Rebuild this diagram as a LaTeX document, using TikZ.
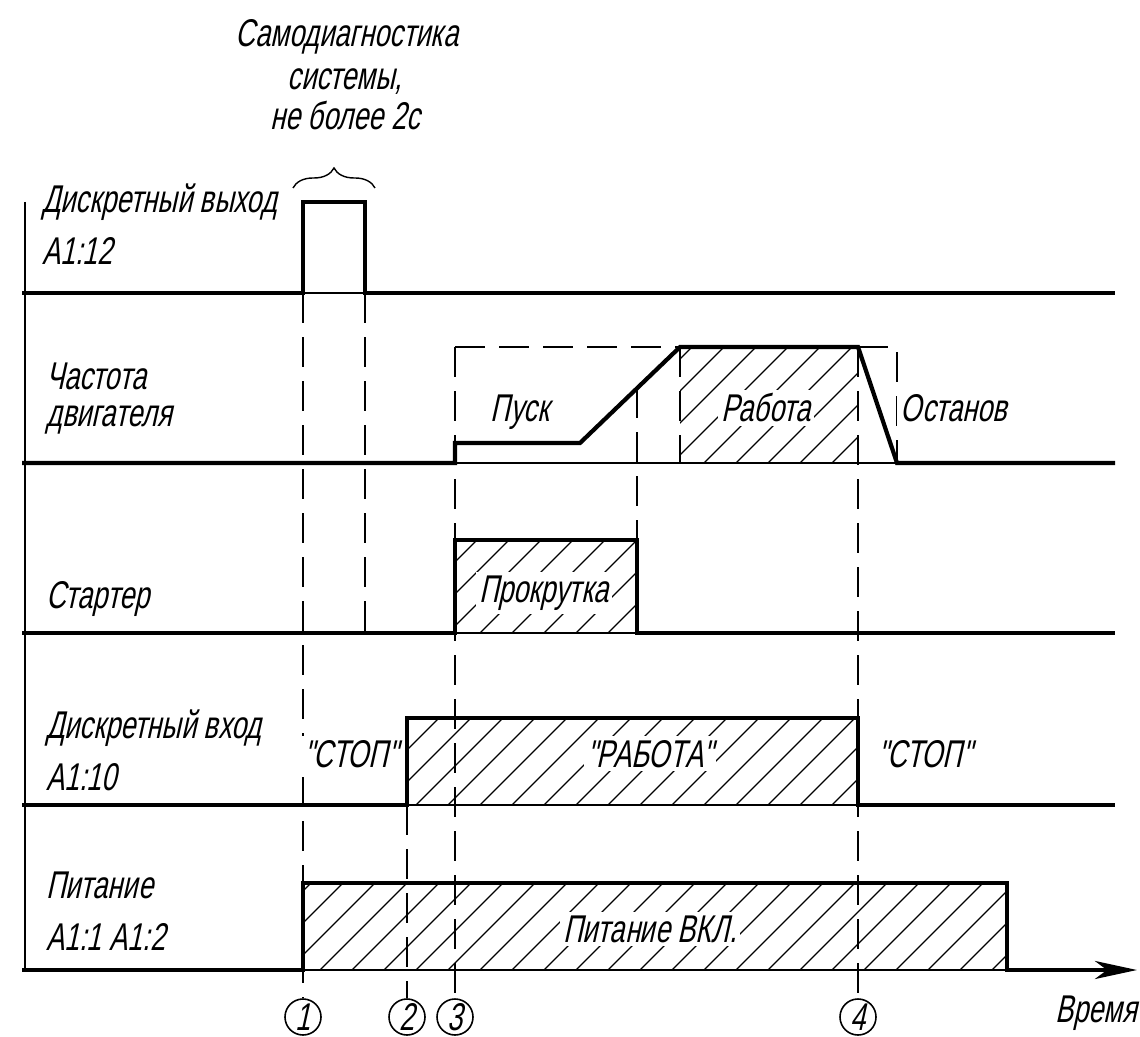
\documentclass[tikz,border=0pt]{standalone}
\usepackage{fontspec}
\usepackage{tikz}
\usetikzlibrary{arrows.meta,decorations.pathreplacing}
\newfontfamily\gostfont{Liberation Sans}[FakeStretch=0.7,FakeSlant=0.22]

\tikzstyle{signal} = [line width=1.2pt]
\tikzstyle{ground} = [line width=0.4pt]
\tikzstyle{guide} = [line width=0.45pt, dash pattern=on 3mm off 1.4mm]
\tikzstyle{hatchline} = [line width=0.35pt]
\tikzstyle{lbl} = [font=\gostfont\fontsize{11}{13}\selectfont, inner sep=1pt]
\tikzstyle{tag} = [lbl, fill=white]
\tikzstyle{marker} = [draw, circle, line width=0.45pt, minimum size=3.6mm,
    inner sep=0pt, font=\gostfont\fontsize{11}{13}\selectfont]

\newcommand{\hatchrect}[4]{%
  \begin{scope}
    \clip (#1,#2) rectangle (#3,#4);
    \foreach \hx in {-160,-128,...,1120}
      \draw[hatchline] (\hx,#4) -- ++(160,-160);
  \end{scope}}

\begin{document}
\begin{tikzpicture}[x=0.01cm, y=-0.01cm]
\useasboundingbox (0,0) rectangle (1140,1037);

% hatched zones
\hatchrect{680}{347}{858}{463}
\hatchrect{455}{540}{637}{633}
\hatchrect{407}{718}{858}{805}
\hatchrect{303}{883}{1007}{970}

% axis and thin bottoms
\draw[ground] (25,202) -- (25,970);
\draw[ground] (303,293) -- (365,293);
\draw[ground] (455,463) -- (897,463);
\draw[ground] (455,633) -- (637,633);
\draw[ground] (407,805) -- (858,805);
\draw[ground] (303,970) -- (1007,970);

% time marks
\node[marker] (m1) at (303,1017) {1};
\node[marker] (m2) at (407,1017) {2};
\node[marker] (m3) at (455,1017) {3};
\node[marker] (m4) at (858,1017) {4};

\draw[guide] (303,293) -- (m1);
\draw[guide] (365,293) -- (365,633);
\draw[guide] (407,805) -- (m2);
\draw[guide] (455,347) -- (m3);
\draw[guide] (858,347) -- (m4);
\draw[guide] (455,347) -- (680,347);
\draw[guide] (858,347) -- (897,347) -- (897,463);
\draw[guide] (680,347) -- (680,463);
\draw[guide] (637,388) -- (637,540);

% captions
\node[lbl, anchor=base] (title1) at (347,47) {Самодиагностика};
\node[lbl, anchor=base] (title2) at (345,90) {системы,};
\node[lbl, anchor=base] (title3) at (345,130) {не более 2с};
\draw[ground, decorate, decoration={brace, amplitude=2mm}] (293,188) -- (375,188);

\node[lbl, anchor=base west] (out1) at (38,213) {Дискретный выход};
\node[lbl, anchor=base west] (out2) at (38,265) {A1:12};
\node[lbl, anchor=base west] (freq1) at (42,390) {Частота};
\node[lbl, anchor=base west] (freq2) at (42,427) {двигателя};
\node[lbl, anchor=base west] (start1) at (42,608) {Стартер};
\node[lbl, anchor=base west] (in1) at (42,738) {Дискретный вход};
\node[lbl, anchor=base west] (in2) at (42,790) {A1:10};
\node[lbl, anchor=base west] (pwr1) at (42,898) {Питание};
\node[lbl, anchor=base west] (pwr2) at (42,950) {A1:1 A1:2};

\node[tag, anchor=base] (launch) at (520,422) {Пуск};
\node[tag, anchor=base] (run) at (766,422) {Работа};
\node[tag, anchor=base] (halt) at (954,422) {Останов};
\node[tag, anchor=base] (crank) at (544,602) {Прокрутка};
\node[tag, anchor=base] (stopA) at (351,767) {"СТОП"};
\node[tag, anchor=base] (runA) at (650,767) {"РАБОТА"};
\node[tag, anchor=base] (stopB) at (925,767) {"СТОП"};
\node[tag, anchor=base] (pwron) at (650,942) {Питание ВКЛ.};
\node[lbl, anchor=base east] (time) at (1141,1022) {Время};

% signals
\draw[signal] (22,293) -- (303,293) -- (303,202) -- (365,202) -- (365,293) -- (1115,293);
\draw[signal] (22,463) -- (455,463) -- (455,443) -- (580,443) -- (680,347)
    -- (858,347) -- (897,463) -- (1115,463);
\draw[signal] (22,633) -- (455,633) -- (455,540) -- (637,540) -- (637,633) -- (1115,633);
\draw[signal] (22,805) -- (407,805) -- (407,718) -- (858,718) -- (858,805) -- (1115,805);
\draw[signal, -{Stealth[length=4.2mm, width=1.8mm, inset=1.2mm]}] (22,970) -- (303,970)
    -- (303,883) -- (1007,883) -- (1007,970) -- (1137,970);
\end{tikzpicture}
\end{document}
